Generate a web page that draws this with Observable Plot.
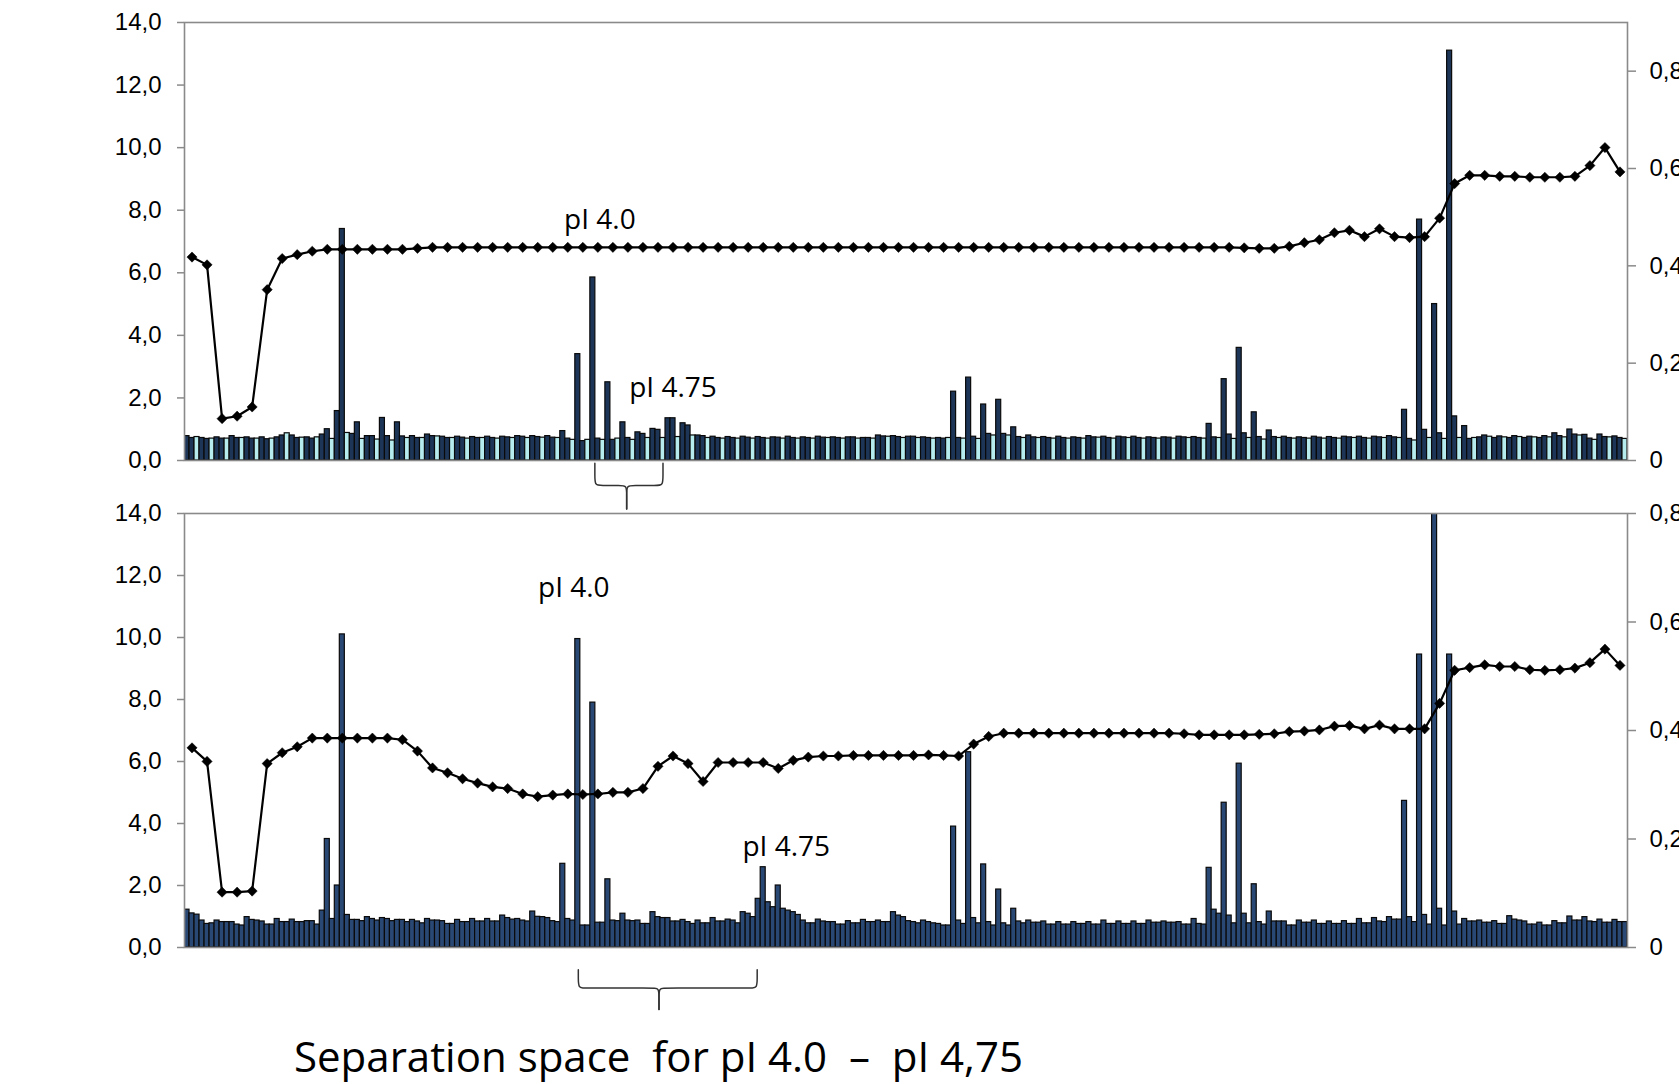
<!DOCTYPE html>
<html><head><meta charset="utf-8">
<script src="https://cdn.jsdelivr.net/npm/d3@7"></script>
<script src="https://cdn.jsdelivr.net/npm/@observablehq/plot@0.6"></script>
<style>
html,body{margin:0;padding:0;background:#fff;overflow:hidden;width:1679px;height:1084px}
#wrap{position:relative;width:1679px;height:1084px;overflow:hidden}
#wrap svg{position:absolute;left:0}
#caption{position:absolute;left:294px;top:1035px;font-family:"Open Sans",sans-serif;font-size:42px;white-space:pre;color:#000;line-height:1}
</style></head><body><div id="wrap"><div id="caption">Separation space  for pI 4.0  –  pI 4,75</div></div>
<script>
// ---- data ----
const leftTicks = [0, 2, 4, 6, 8, 10, 12, 14];
const rightTicks = [0, 0.2, 0.4, 0.6, 0.8];

// top panel: 288 fractions (bars), 96 pH points (line)
const topBars = [
.78,.72,.75,.72,.69,.70,.74,.70,.70,.78,.72,.72,.74,.70,.70,.74,.68,.70,.74,.80,.87,.80,.72,.73,.74,.70,.74,.83,1.0,.69,
1.58,7.4,.88,.85,1.22,.69,.78,.78,.67,1.36,.78,.64,1.22,.77,.72,.78,.72,.72,.83,.78,.77,.76,.72,.72,.76,.73,.70,.75,.72,.72,
.76,.72,.70,.76,.74,.72,.78,.76,.72,.78,.75,.73,.78,.73,.72,.94,.70,.66,3.4,.62,.66,5.85,.70,.66,2.5,.66,.70,1.22,.72,.66,
.90,.85,.72,1.01,.98,.72,1.35,1.35,.75,1.19,1.12,.80,.80,.78,.72,.76,.72,.70,.75,.72,.70,.76,.73,.70,.75,.72,.70,.74,.73,.70,
.76,.72,.70,.74,.72,.70,.76,.73,.72,.74,.72,.70,.74,.74,.70,.72,.72,.70,.80,.77,.76,.78,.75,.72,.76,.76,.72,.74,.72,.70,
.72,.70,.72,2.2,.72,.70,2.65,.76,.69,1.79,.85,.80,1.94,.85,.80,1.06,.75,.72,.80,.74,.72,.75,.72,.70,.76,.72,.70,.74,.72,.70,
.78,.74,.73,.76,.72,.70,.76,.74,.72,.76,.72,.70,.74,.72,.70,.74,.73,.70,.76,.74,.72,.75,.72,.70,1.17,.74,.72,2.6,.83,.69,
3.6,.87,.72,1.54,.75,.67,.96,.75,.72,.76,.72,.70,.74,.72,.70,.76,.73,.70,.75,.72,.70,.76,.74,.72,.76,.72,.70,.76,.74,.72,
.78,.74,.72,1.62,.69,.64,7.7,.98,.72,5.0,.87,.69,13.1,1.41,.72,1.1,.69,.72,.74,.80,.76,.72,.77,.74,.72,.78,.75,.72,.76,.74,
.72,.78,.74,.87,.78,.74,.99,.83,.80,.82,.70,.66,.83,.75,.74,.77,.72,.69];
const topLine = [
.418,.402,.086,.091,.110,.351,.415,.423,.430,.434,.434,.434,.434,.434,.434,.436,.438,.438,.438,.438,
.438,.438,.438,.438,.438,.438,.438,.438,.438,.438,.438,.438,.438,.438,.438,.438,.438,.438,.438,.438,
.438,.438,.438,.438,.438,.438,.438,.438,.438,.438,.438,.438,.438,.438,.438,.438,.438,.438,.438,.438,
.438,.438,.438,.438,.438,.438,.438,.438,.438,.438,.437,.436,.436,.440,.4475,.4536,.468,.473,.460,.476,
.460,.458,.460,.498,.569,.586,.586,.584,.584,.582,.582,.582,.584,.606,.643,.593];

// bottom panel
const bottomBars = [
1.22,1.1,1.06,.87,.76,.78,.87,.82,.82,.82,.74,.71,.98,.89,.87,.84,.74,.74,.92,.82,.82,.90,.82,.82,.85,.85,.74,1.19,3.5,.92,
2.0,10.1,1.05,.89,.89,.85,.98,.92,.87,.95,.92,.85,.89,.89,.82,.89,.84,.78,.92,.87,.87,.85,.76,.76,.89,.82,.82,.92,.84,.84,
.92,.84,.84,1.03,.95,.90,.92,.87,.84,1.16,.99,.98,.95,.85,.82,2.7,.92,.87,9.95,.71,.71,7.9,.80,.80,2.2,.87,.85,1.09,.87,.85,
.87,.76,.76,1.14,.98,.95,.95,.84,.84,.89,.82,.76,.87,.78,.78,.95,.84,.84,.90,.87,.78,1.14,1.09,.98,1.57,2.59,1.46,1.3,2.0,1.25,
1.19,1.14,1.05,.87,.78,.78,.90,.84,.82,.82,.74,.74,.85,.78,.78,.89,.82,.82,.87,.82,.82,1.14,1.03,.98,.85,.82,.78,.87,.82,.78,
.76,.71,.71,3.9,.87,.76,6.3,.95,.78,2.68,.82,.71,1.87,.78,.71,1.25,.84,.78,.87,.80,.80,.84,.74,.74,.82,.74,.74,.82,.76,.76,
.82,.74,.74,.87,.76,.76,.84,.76,.76,.84,.76,.76,.87,.80,.80,.84,.80,.80,.82,.74,.74,.92,.76,.74,2.57,1.22,1.09,4.67,1.03,.78,
5.93,1.09,.78,2.04,.82,.74,1.16,.84,.84,.84,.71,.71,.87,.80,.80,.87,.76,.76,.84,.76,.76,.85,.76,.76,.92,.78,.78,.95,.84,.82,
.98,.90,.90,4.73,.98,.82,9.45,1.05,.74,15,1.25,.71,9.45,1.16,.74,.92,.84,.84,.87,.80,.80,.85,.76,.76,1.01,.90,.87,.84,.74,.74,
.80,.71,.71,.85,.78,.78,1.0,.87,.87,.98,.84,.82,.90,.80,.80,.89,.82,.82];
const bottomLine = [
.368,.343,.102,.102,.104,.339,.359,.370,.386,.386,.386,.386,.386,.386,.383,.362,.331,.322,.311,.303,
.296,.293,.283,.278,.281,.283,.282,.283,.286,.286,.293,.334,.353,.339,.306,.341,.341,.341,.341,.330,
.345,.351,.353,.353,.354,.354,.354,.354,.354,.355,.354,.353,.375,.389,.395,.395,.395,.395,.395,.395,
.395,.395,.395,.395,.395,.395,.394,.392,.392,.392,.392,.393,.394,.398,.399,.401,.408,.409,.403,.410,
.403,.403,.403,.450,.511,.516,.521,.518,.518,.512,.511,.512,.515,.525,.550,.520];

const topLabels = [{t: "pI 4.0", x: 82.9, y: 7.68}, {t: "pI 4.75", x: 97.5, y: 2.31}];
const bottomLabels = [{t: "pI 4.0", x: 77.7, y: 11.61}, {t: "pI 4.75", x: 120.1, y: 3.25}];

// ---- drawing ----
const NAVY_TOP = "#1d3658", NAVY_BOT = "#2a4874", CYAN = "#b6ecee";
function fmtLeft(d) { return d.toFixed(1).replace(".", ","); }

function brace(b) {
  const left = [[b.x1, b.yTop], [b.x1, b.yMid + 0.35], [b.x1, b.yMid], [b.x1 + 1.2, b.yMid],
                [b.xm - 1.2, b.yMid], [b.xm, b.yMid], [b.xm, b.yMid - 0.3], [b.xm, b.yBot]];
  const right = [[b.x2, b.yTop], [b.x2, b.yMid + 0.35], [b.x2, b.yMid], [b.x2 - 1.2, b.yMid],
                 [b.xm + 1.2, b.yMid], [b.xm, b.yMid], [b.xm, b.yMid - 0.3], [b.xm, b.yBot]];
  const opt = {x: d => d[0], y: d => d[1], stroke: "#333", strokeWidth: 1.5, curve: "basis"};
  return [Plot.line(left, opt), Plot.line(right, opt)];
}

function panel(cfg) {
  const k = 14 / cfg.rightMax;
  const barData = cfg.bars.map((v, i) => ({i, v, c: cfg.cyan && i % 3 === 2}));
  const lineData = cfg.line.map((v, j) => ({x: 3 * j + 1.5, y: v * k}));
  const svg = Plot.plot({
    width: 1679, height: cfg.height,
    marginLeft: 184, marginRight: 52, marginTop: cfg.marginTop, marginBottom: cfg.marginBottom,
    x: {domain: [0, cfg.bars.length], axis: null},
    y: {domain: [0, 14]},
    style: {background: "transparent", fontFamily: "'Liberation Sans', Arial, sans-serif", fontSize: "24px", color: "#000", overflow: "visible"},
    marks: [
      Plot.rect(barData, {x1: "i", x2: d => d.i + 1, y1: 0, y2: "v",
        fill: d => d.c ? CYAN : cfg.navy, stroke: "#0a0a0a", strokeWidth: 1.2, clip: true}),
      Plot.frame({stroke: "#8a8a8a", strokeWidth: 1.6}),
      Plot.axisY(leftTicks, {anchor: "left", tickFormat: fmtLeft, tickSize: 7, tickPadding: 16,
        stroke: "#8a8a8a", strokeWidth: 1.5, fill: "#000", label: null}),
      Plot.axisY(rightTicks.map(v => v * k), {anchor: "right", tickSize: 8, tickPadding: 14,
        tickFormat: d => { const v = Math.round(d / k * 10) / 10; return v === 0 ? "0" : v.toFixed(1).replace(".", ","); },
        stroke: "#8a8a8a", strokeWidth: 1.5, fill: "#000", label: null}),
      Plot.line(lineData, {x: "x", y: "y", stroke: "#000", strokeWidth: 2.2}),
      Plot.dot(lineData, {x: "x", y: "y", symbol: "diamond2", r: 4.6, fill: "#000", stroke: "#000", strokeWidth: 0.5}),
      Plot.text(cfg.labels, {x: "x", y: "y", text: "t", fontSize: 28, fontFamily: "'Open Sans', sans-serif", fill: "#000", lineAnchor: "middle"}),
      ...brace(cfg.brace)
    ]
  });
  svg.style.top = cfg.top + "px";
  return svg;
}

const wrap = document.getElementById("wrap");
wrap.appendChild(panel({bars: topBars, line: topLine, rightMax: 0.9, cyan: true, navy: NAVY_TOP,
  height: 515, top: 0, marginTop: 22, marginBottom: 55, labels: topLabels,
  brace: {x1: 81.9, x2: 95.5, xm: 88.25, yTop: -0.09, yMid: -0.8, yBot: -1.55}}));
wrap.appendChild(panel({bars: bottomBars, line: bottomLine, rightMax: 0.8, cyan: false, navy: NAVY_BOT,
  height: 532, top: 480, marginTop: 33, marginBottom: 65, labels: bottomLabels,
  brace: {x1: 78.6, x2: 114.3, xm: 94.7, yTop: -0.72, yMid: -1.31, yBot: -2.0}}));
</script></body></html>
